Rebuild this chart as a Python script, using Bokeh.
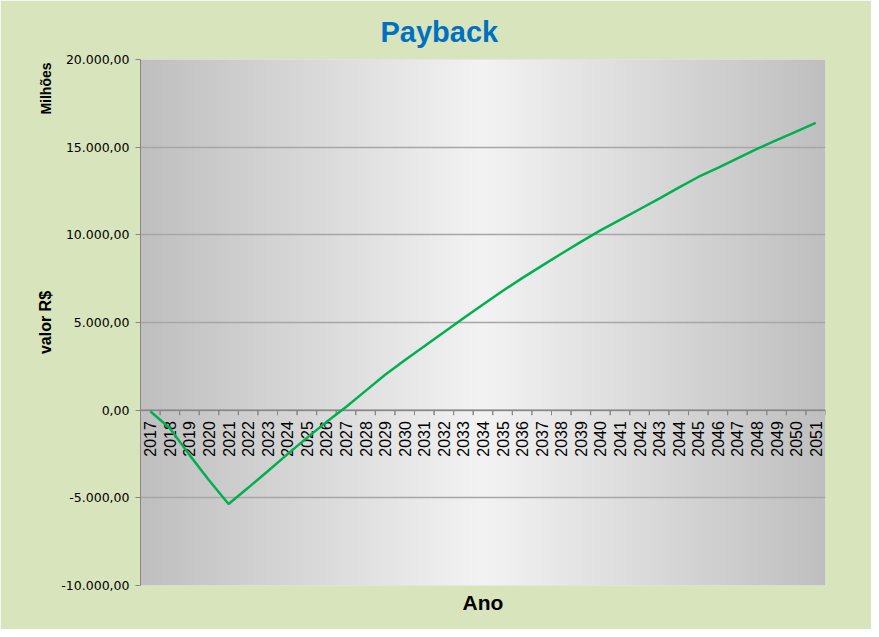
import math
import numpy as np
from bokeh.plotting import figure
from bokeh.models import ColumnDataSource, FactorRange, Range1d, FixedTicker, Span, Title
from bokeh.transform import dodge
from bokeh.core.properties import value
from bokeh.embed import file_html
from bokeh.resources import INLINE

years = ["2017", "2018", "2019", "2020", "2021", "2022", "2023", "2024", "2025",
         "2026", "2027", "2028", "2029", "2030", "2031", "2032", "2033", "2034",
         "2035", "2036", "2037", "2038", "2039", "2040", "2041", "2042", "2043",
         "2044", "2045", "2046", "2047", "2048", "2049", "2050", "2051"]
payback = [-60, -1030, -2550, -4000, -5350, -4430, -3480, -2520, -1580, -680,
           180, 1100, 2020, 2850, 3640, 4440, 5240, 6030, 6800, 7530,
           8230, 8920, 9600, 10250, 10850, 11460, 12070, 12690, 13300, 13820,
           14360, 14900, 15400, 15890, 16380]
y_ticks = [-10000, -5000, 0, 5000, 10000, 15000, 20000]
y_min, y_max = -10000, 20000

W, H = 871, 629
ML, MR, MT, MB = 140, 46, 59, 44
plot_h = H - MT - MB
FONT = "Liberation Sans"


def br(v):
    s = f"{v:,.2f}"
    return s.replace(",", "#").replace(".", ",").replace("#", ".")


source = ColumnDataSource(data=dict(year=years, value=payback))

p = figure(width=W, height=H,
           x_range=FactorRange(factors=years, range_padding=0),
           y_range=Range1d(y_min, y_max),
           output_backend="svg", toolbar_location=None,
           x_axis_location=None,
           min_border_left=ML, min_border_right=MR,
           min_border_top=MT, min_border_bottom=MB)
p.border_fill_color = "#D8E4BC"
p.background_fill_color = "#D9D9D9"
p.outline_line_color = None
p.xgrid.visible = False

# title
p.title.text = "Payback"
p.title.align = "left"
p.title.offset = 240
p.title.standoff = 24
p.title.text_font = FONT
p.title.text_font_style = "bold"
p.title.text_font_size = "29px"
p.title.text_color = "#0070C0"

# y axis
p.yaxis.ticker = FixedTicker(ticks=y_ticks)
p.yaxis.major_label_overrides = {t: br(t) for t in y_ticks}
p.yaxis.major_label_text_font = "DejaVu Sans"
p.yaxis.major_label_text_font_size = "12.5px"
p.yaxis.major_label_text_color = "black"
p.yaxis.major_tick_out = 5
p.yaxis.major_tick_in = 0
p.yaxis.minor_tick_line_color = None
p.yaxis.axis_line_color = "#868686"
p.yaxis.major_tick_line_color = "#868686"
p.yaxis.major_label_standoff = 6
p.yaxis.axis_label = "valor R$"
p.yaxis.axis_label_text_font = FONT
p.yaxis.axis_label_text_font_style = "bold"
p.yaxis.axis_label_text_font_size = "16px"
p.yaxis.axis_label_text_color = "black"
p.yaxis.axis_label_standoff = 4

p.ygrid.ticker = FixedTicker(ticks=y_ticks)
p.ygrid.grid_line_color = "#A6A6A6"
p.ygrid.grid_line_width = 1.5

# horizontal gradient background of the plot area
n = 400
t = np.linspace(0, 1, n)
g = (191 + (243 - 191) * (1 - np.abs(2 * t - 1))).astype(np.uint8)
img = np.empty((1, n), dtype=np.uint32)
view = img.view(dtype=np.uint8).reshape((1, n, 4))
view[0, :, 0] = g
view[0, :, 1] = g
view[0, :, 2] = g
view[0, :, 3] = 255
bg = p.image_rgba(image=[img], x=0, y=y_min, dw=len(years), dh=y_max - y_min)
bg.level = "image"

# category axis drawn at zero
p.add_layout(Span(location=0, dimension="width", line_color="#868686",
                  line_width=1.5, level="underlay"))
tick_len = 5 * (y_max - y_min) / plot_h
for off in (-0.5, 0.5):
    p.segment(x0=dodge("year", off, range=p.x_range), y0=0,
              x1=dodge("year", off, range=p.x_range), y1=-tick_len,
              source=source, line_color="#868686", line_width=1)

p.text(x="year", y=0, text="year", source=source, angle=math.pi / 2,
       text_align="right", text_baseline="middle", y_offset=11,
       text_font=value(FONT), text_font_size="16px", text_color="black")

p.line("year", "value", source=source, line_color="#00B050", line_width=2.5)

# x axis title
p.add_layout(Title(text="Ano", align="center", standoff=6, text_font=FONT,
                   text_font_style="bold", text_font_size="21px",
                   text_color="black"), "below")

# units note at the top of the value axis
p.add_layout(Title(text="Milhões", align="right", offset=3, standoff=-38,
                   text_font=FONT, text_font_style="bold",
                   text_font_size="14px", text_color="black"), "left")

open("out.html", "w").write(file_html(p, INLINE))
